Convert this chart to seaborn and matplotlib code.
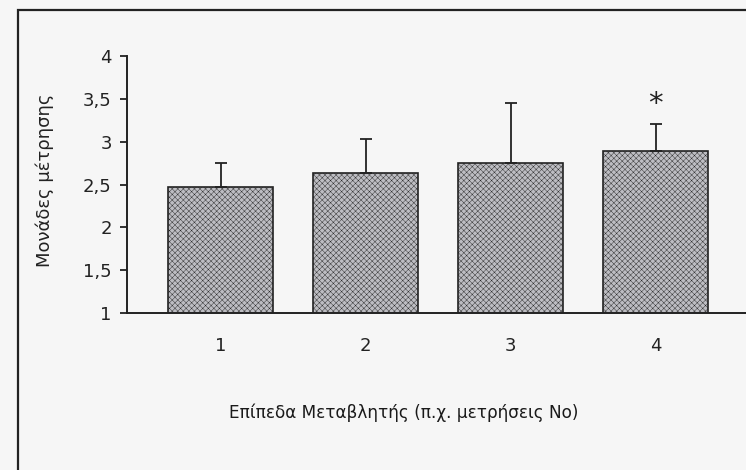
import numpy as np
import pandas as pd
import matplotlib
matplotlib.use("Agg")
import matplotlib.pyplot as plt
import matplotlib.patches as patches
import seaborn as sns

# Τιμές που διαβάστηκαν από το γράφημα
levels = ["1", "2", "3", "4"]
means = [2.47, 2.63, 2.75, 2.89]
err_up = [0.28, 0.40, 0.70, 0.32]
y_ticks = [1, 1.5, 2, 2.5, 3, 3.5, 4]
y_ticklabels = ["1", "1,5", "2", "2,5", "3", "3,5", "4"]
star_level = 3  # δείκτης του επιπέδου με αστερίσκο

df = pd.DataFrame({"level": levels, "mean": means, "err": err_up})

sns.set_style("white")
plt.rcParams["font.family"] = ["DejaVu Sans"]
plt.rcParams["hatch.linewidth"] = 0.3
plt.rcParams["hatch.color"] = "#9b9ba2"

bg = "#f6f6f6"
fig = plt.figure(figsize=(7.46, 4.70), dpi=100, facecolor=bg)
ax = fig.add_axes([127 / 746, 1 - 313 / 470, 1 - 127 / 746, (313 - 56) / 470])
ax.set_facecolor(bg)

sns.barplot(data=df, x="level", y="mean", order=levels, color="#bdbdc2",
            width=0.72, errorbar=None, edgecolor="#222222", linewidth=1.2,
            saturation=1, ax=ax)
for p in ax.patches:
    p.set_hatch("xxxxxx")

# μόνο τα πάνω σφάλματα
xs = np.arange(len(levels))
ax.errorbar(xs, df["mean"], yerr=[np.zeros(len(levels)), df["err"]],
            fmt="none", ecolor="#222222", elinewidth=1.3, capsize=4, capthick=1.3)

ax.text(star_level, 3.35, "*", ha="center", va="baseline", fontsize=21, color="#222222")

ax.set_ylim(1, 4)
ax.set_xlim(-0.645, 3.624)
ax.set_yticks(y_ticks)
ax.set_yticklabels(y_ticklabels)
sns.despine(ax=ax, top=True, right=True)
for s in ["left", "bottom"]:
    ax.spines[s].set_linewidth(1.4)
    ax.spines[s].set_color("#222222")
ax.tick_params(axis="y", direction="out", length=5, width=1.3, pad=6,
               labelsize=13, colors="#222222", left=True)
ax.tick_params(axis="x", length=0, pad=17, labelsize=13, colors="#222222")

ax.set_xlabel("")
ax.set_ylabel("")
fig.text(404 / 746, 1 - 413 / 470, "Επίπεδα Μεταβλητής (π.χ. μετρήσεις Νο)",
         ha="center", va="center", fontsize=12.2, color="#1a1a1a")
fig.text(45 / 746, 1 - 180 / 470, "Μονάδες μέτρησης", rotation=90,
         ha="center", va="center", fontsize=13, color="#222222")

# πλαίσιο της εικόνας
frame = patches.Rectangle((18 / 746, -0.1), 1.2, 1 - 10 / 470 + 0.1,
                          transform=fig.transFigure, fill=False,
                          edgecolor="#222222", linewidth=1.6, clip_on=False)
fig.patches.append(frame)

fig.savefig("out.png", dpi=100, facecolor=bg)
